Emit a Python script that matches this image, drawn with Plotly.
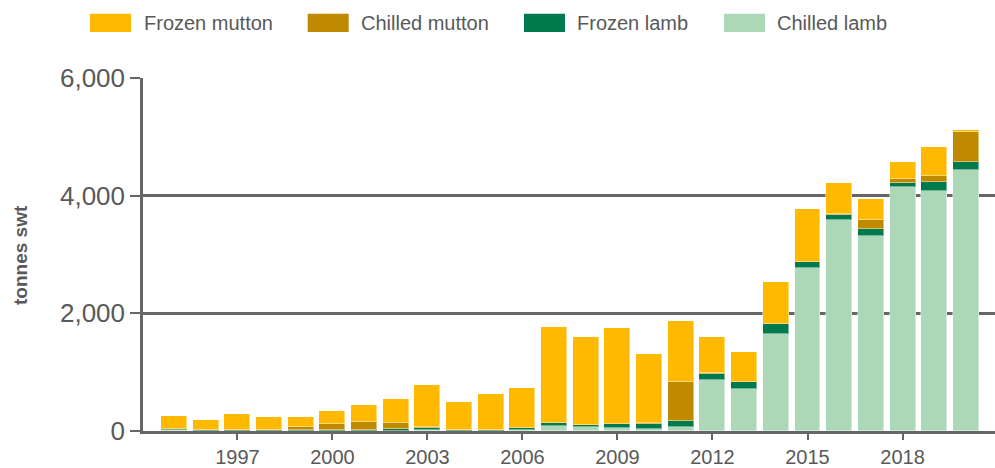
import plotly.graph_objects as go

years = list(range(1995, 2021))
chilled_lamb = [20, 5, 5, 5, 5, 5, 5, 5, 20, 5, 5, 15, 80, 70, 45, 40, 60, 875, 718, 1649, 2766, 3579, 3313, 4154, 4075, 4435]
frozen_lamb = [10, 5, 5, 5, 5, 5, 10, 30, 35, 15, 15, 35, 50, 30, 75, 75, 110, 102, 112, 162, 107, 84, 124, 56, 164, 131]
chilled_mutton = [10, 10, 15, 15, 60, 115, 140, 100, 10, 5, 5, 5, 5, 5, 5, 15, 670, 17, 5, 5, 5, 22, 152, 73, 90, 508]
frozen_mutton = [215, 166, 263, 218, 162, 214, 285, 413, 725, 461, 607, 668, 1639, 1488, 1621, 1175, 1034, 603, 509, 723, 892, 530, 350, 283, 496, 45]

series_names = ["Frozen mutton", "Chilled mutton", "Frozen lamb", "Chilled lamb"]
colors = {"Frozen mutton": "#FFB900", "Chilled mutton": "#C08A00",
          "Frozen lamb": "#007A4D", "Chilled lamb": "#ADD8B7"}
data = {"Frozen mutton": frozen_mutton, "Chilled mutton": chilled_mutton,
        "Frozen lamb": frozen_lamb, "Chilled lamb": chilled_lamb}

xticks = [1997, 2000, 2003, 2006, 2009, 2012, 2015, 2018]
yticks = [0, 2000, 4000, 6000]

FONT = "Liberation Sans, Arial, sans-serif"
TXT = "#595959"
AX = "#666666"

fig = go.Figure()
for name in ["Chilled lamb", "Frozen lamb", "Chilled mutton", "Frozen mutton"]:
    fig.add_trace(go.Bar(
        x=years, y=data[name], name=name, width=0.82,
        marker=dict(color=colors[name], line=dict(color="rgba(255,255,255,0.45)", width=1)),
        showlegend=False,
    ))

W, H = 995, 468
L, R, T, B = 143, 0, 78, 35
pw, ph = W - L - R, H - T - B

def px_x(px):
    return (px - L) / pw

def px_y(py):
    return (H - B - py) / ph

# manual legend
legend_items = [("Frozen mutton", 90, 141.5), ("Chilled mutton", 307.7, 359.3),
                ("Frozen lamb", 524, 575), ("Chilled lamb", 724, 775)]
shapes = []
annotations = []
for name, sx, tx in legend_items:
    shapes.append(dict(type="rect", xref="paper", yref="paper",
                       x0=px_x(sx), x1=px_x(sx + 41), y0=px_y(31.7), y1=px_y(13.3),
                       fillcolor=colors[name], line=dict(width=0)))
    annotations.append(dict(text=name, xref="paper", yref="paper", x=px_x(tx), y=px_y(22.5),
                            xanchor="left", yanchor="middle", showarrow=False,
                            font=dict(family=FONT, size=20, color=TXT)))

annotations.append(dict(text="<b>tonnes swt</b>", xref="paper", yref="paper",
                        x=px_x(21), y=px_y(256), xanchor="center", yanchor="middle",
                        textangle=-90, showarrow=False,
                        font=dict(family=FONT, size=19, color=TXT)))

fig.update_layout(
    width=W, height=H,
    margin=dict(l=L, r=R, t=T, b=B),
    barmode="stack",
    bargap=0,
    plot_bgcolor="white", paper_bgcolor="white",
    shapes=shapes, annotations=annotations,
    showlegend=False,
    xaxis=dict(range=[1994.02, 2020.92], tickvals=xticks, ticktext=[str(v) for v in xticks],
               ticks="outside", ticklen=6, tickwidth=1.5, tickcolor=AX,
               showline=True, linecolor=AX, linewidth=3, showgrid=False,
               tickfont=dict(family=FONT, size=20, color=TXT), zeroline=False),
    yaxis=dict(range=[0, 6000], tickvals=yticks, tickformat=",",
               ticks="outside", ticklen=10, tickwidth=1.5, tickcolor=AX,
               showline=True, linecolor=AX, linewidth=2.5,
               showgrid=True, gridcolor=AX, gridwidth=2.5, zeroline=False,
               tickfont=dict(family=FONT, size=26, color=TXT)),
)

fig.write_html("out.html", config={"displayModeBar": False},
               post_script="document.body.style.margin='0';document.body.style.overflow='hidden';")
